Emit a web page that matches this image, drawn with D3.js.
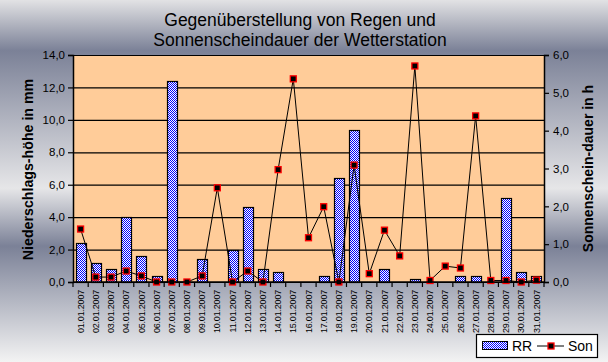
<!DOCTYPE html>
<html>
<head>
<meta charset="utf-8">
<script src="https://cdn.jsdelivr.net/npm/d3@7"></script>
<style>
  body { margin: 0; }
  svg { display: block; font-family: "Liberation Sans", Arial, sans-serif; }
</style>
</head>
<body>
<script>
// Tage im Januar 2007
const days = ["01.01.2007","02.01.2007","03.01.2007","04.01.2007","05.01.2007","06.01.2007","07.01.2007",
  "08.01.2007","09.01.2007","10.01.2007","11.01.2007","12.01.2007","13.01.2007","14.01.2007","15.01.2007",
  "16.01.2007","17.01.2007","18.01.2007","19.01.2007","20.01.2007","21.01.2007","22.01.2007","23.01.2007",
  "24.01.2007","25.01.2007","26.01.2007","27.01.2007","28.01.2007","29.01.2007","30.01.2007","31.01.2007"];
// Niederschlag in mm
const rr = [2.4, 1.2, 0.8, 4.0, 1.6, 0.4, 12.4, 0, 1.4, 0, 2.0, 4.6, 0.8, 0.6, 0,
  0, 0.4, 6.4, 9.4, 0, 0.8, 0, 0.2, 0, 0, 0.4, 0.4, 0, 5.2, 0.6, 0.4];
// Sonnenscheindauer in h
const son = [1.4, 0.13, 0.13, 0.29, 0.16, 0, 0, 0, 0.16, 2.49, 0, 0.29, 0, 2.97, 5.37,
  1.17, 1.99, 0, 3.09, 0.22, 1.37, 0.69, 5.71, 0.04, 0.42, 0.37, 4.39, 0.04, 0.04, 0, 0.05];
const leftTicks = [0, 2, 4, 6, 8, 10, 12, 14];
const rightTicks = [0, 1, 2, 3, 4, 5, 6];

const width = 608, height = 362;
const plot = {left: 73, right: 544, top: 55, bottom: 282};
const fmt = d => d3.format(".1f")(d).replace(".", ",");

const svg = d3.select("body").append("svg")
  .attr("width", width).attr("height", height);

const defs = svg.append("defs");
const grad = defs.append("linearGradient").attr("id", "bg")
  .attr("x1", 0).attr("y1", 0).attr("x2", 0).attr("y2", 1);
[[0, "#e2e2e4"], [0.14, "#7b8197"], [0.52, "#e6e6e8"], [0.68, "#7b8197"], [1, "#f3f3f3"]]
  .forEach(s => grad.append("stop").attr("offset", s[0]).attr("stop-color", s[1]));

const pat = defs.append("pattern").attr("id", "checker")
  .attr("width", 2).attr("height", 2).attr("patternUnits", "userSpaceOnUse");
pat.append("rect").attr("width", 2).attr("height", 2).attr("fill", "#fff");
pat.append("rect").attr("width", 1).attr("height", 1).attr("fill", "#0000ff");
pat.append("rect").attr("x", 1).attr("y", 1).attr("width", 1).attr("height", 1).attr("fill", "#0000ff");

svg.append("rect").attr("width", width).attr("height", height).attr("fill", "url(#bg)");

const x = d3.scaleBand().domain(days).range([plot.left, plot.right]);
const yL = d3.scaleLinear().domain([0, 14]).range([plot.bottom, plot.top]);
const yR = d3.scaleLinear().domain([0, 6]).range([plot.bottom, plot.top]);
const cx = d => x(d) + x.bandwidth() / 2;

svg.append("rect")
  .attr("x", plot.left).attr("y", plot.top)
  .attr("width", plot.right - plot.left).attr("height", plot.bottom - plot.top)
  .attr("fill", "#ffcc99");

// Gitterlinien
svg.append("g").selectAll("line").data(leftTicks).join("line")
  .attr("x1", plot.left).attr("x2", plot.right)
  .attr("y1", d => yL(d) + 0.5).attr("y2", d => yL(d) + 0.5)
  .attr("stroke", "#000").attr("stroke-width", 1.2);

// Balken RR
const bw = 10;
const rrData = rr.map((v, i) => ({day: days[i], v})).filter(d => d.v > 0);
svg.append("g").selectAll("rect").data(rrData).join("rect")
  .attr("x", d => Math.round(cx(d.day) - bw / 2) + 0.5)
  .attr("y", d => Math.round(yL(d.v)) + 0.5)
  .attr("width", bw)
  .attr("height", d => Math.round(plot.bottom - yL(d.v)))
  .attr("fill", "url(#checker)")
  .attr("stroke", "#000").attr("stroke-width", 1.2);

// Linie Son
const sonData = son.map((v, i) => ({day: days[i], v}));
const line = d3.line().x(d => cx(d.day)).y(d => yR(d.v));
svg.append("path").datum(sonData).attr("d", line)
  .attr("fill", "none").attr("stroke", "#000").attr("stroke-width", 1);
svg.append("g").selectAll("rect").data(sonData).join("rect")
  .attr("x", d => cx(d.day) - 3)
  .attr("y", d => yR(d.v) - 3)
  .attr("width", 6).attr("height", 6)
  .attr("fill", "#000").attr("stroke", "#ff0000").attr("stroke-width", 1.3);

// Achsen
const axL = svg.append("g").attr("transform", `translate(${plot.left},0)`)
  .call(d3.axisLeft(yL).tickValues(leftTicks).tickFormat(fmt).tickSize(5).tickPadding(3));
const axR = svg.append("g").attr("transform", `translate(${plot.right},0)`)
  .call(d3.axisRight(yR).tickValues(rightTicks).tickFormat(fmt).tickSize(5).tickPadding(4));
const axB = svg.append("g").attr("transform", `translate(0,${plot.bottom})`)
  .call(d3.axisBottom(x).tickSize(0).tickPadding(0));
[axL, axR, axB].forEach(a => {
  a.select(".domain").attr("stroke", "#000").attr("stroke-width", 1.5);
  a.selectAll(".tick line").attr("stroke", "#000").attr("stroke-width", 1.2);
  a.selectAll("text").attr("fill", "#000").attr("font-size", 11.5)
    .attr("font-family", "Liberation Sans, Arial, sans-serif");
});
axB.select(".domain").attr("d", `M${plot.left},0H${plot.right}`);
axB.selectAll(".tick text")
  .attr("font-size", 9)
  .attr("letter-spacing", -0.2)
  .attr("transform", "rotate(-90)")
  .attr("text-anchor", "end")
  .attr("x", -8).attr("y", 0).attr("dy", "0.35em");
// Teilstriche zwischen den Tagen
svg.append("g").selectAll("line").data(days.concat(["end"])).join("line")
  .attr("x1", (d, i) => plot.left + i * x.step())
  .attr("x2", (d, i) => plot.left + i * x.step())
  .attr("y1", plot.bottom).attr("y2", plot.bottom + 5)
  .attr("stroke", "#000").attr("stroke-width", 1.2);

// Titel
const title = svg.append("text").attr("text-anchor", "middle").attr("font-size", 17.5).attr("fill", "#000");
title.append("tspan").attr("x", 300).attr("y", 26).text("Gegenüberstellung von Regen und");
title.append("tspan").attr("x", 300).attr("y", 46).text("Sonnenscheindauer der Wetterstation");

svg.append("text")
  .attr("transform", `translate(33,${(plot.top + plot.bottom) / 2 + 1}) rotate(-90)`)
  .attr("text-anchor", "middle").attr("font-size", 14.2).attr("font-weight", "bold")
  .text("Niederschlags-höhe in mm");
svg.append("text")
  .attr("transform", `translate(593,${(plot.top + plot.bottom) / 2}) rotate(-90)`)
  .attr("text-anchor", "middle").attr("font-size", 14).attr("font-weight", "bold")
  .text("Sonnenschein-dauer in h");

// Legende
const lg = svg.append("g").attr("transform", "translate(476,334)");
lg.append("rect").attr("x", 0.5).attr("y", 0.5).attr("width", 121).attr("height", 23)
  .attr("fill", "#fff").attr("stroke", "#000").attr("stroke-width", 1.2);
lg.append("rect").attr("x", 6.5).attr("y", 7.5).attr("width", 25).attr("height", 8)
  .attr("fill", "url(#checker)").attr("stroke", "#000");
lg.append("text").attr("x", 36).attr("y", 17).attr("font-size", 14).text("RR");
lg.append("line").attr("x1", 61).attr("x2", 88).attr("y1", 12).attr("y2", 12).attr("stroke", "#000");
lg.append("rect").attr("x", 72).attr("y", 9).attr("width", 6).attr("height", 6)
  .attr("fill", "#000").attr("stroke", "#ff0000").attr("stroke-width", 1.3);
lg.append("text").attr("x", 92).attr("y", 17).attr("font-size", 14).text("Son");
</script>
</body>
</html>
